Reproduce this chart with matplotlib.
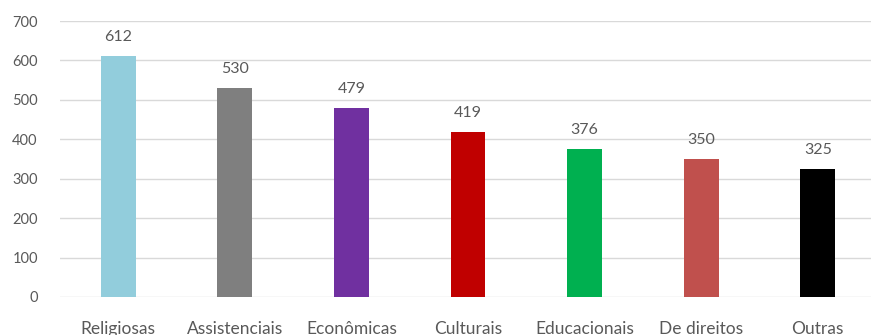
import matplotlib.pyplot as plt

categories = ["Religiosas", "Assistenciais", "Econômicas", "Culturais",
              "Educacionais", "De direitos", "Outras"]
counts = [612, 530, 479, 419, 376, 350, 325]
bar_colors = ["#92CDDC", "#7F7F7F", "#7030A0", "#C00000",
              "#00B050", "#C0504D", "#000000"]
y_ticks = [0, 100, 200, 300, 400, 500, 600, 700]

plt.rcParams['font.family'] = ['Lato', 'DejaVu Sans']
text_color = "#595959"

fig = plt.figure(figsize=(8.71, 3.35), dpi=100)
# axis box runs slightly past the right edge of the canvas
ax = fig.add_axes([60 / 871, 38 / 335, 816 / 871, 276 / 335])

x = range(len(categories))
bars = ax.bar(x, counts, width=0.3, color=bar_colors, zorder=3)

for rect, val in zip(bars, counts):
    ax.annotate(str(val), (rect.get_x() + rect.get_width() / 2, val),
                xytext=(0, 8.5), textcoords="offset points",
                ha="center", va="bottom", fontsize=11.5, color=text_color)

ax.set_xlim(-0.5, len(categories) - 0.5)
ax.set_ylim(0, 700)
ax.set_yticks(y_ticks)
ax.set_xticks(list(x))
ax.set_xticklabels(categories)
ax.tick_params(axis="both", length=0, labelsize=10.5, labelcolor=text_color)
ax.tick_params(axis="y", pad=16)
ax.tick_params(axis="x", pad=17, labelsize=12.5)

ax.grid(axis="y", color="#D9D9D9", linewidth=1, zorder=0)
for side in ["top", "right", "left", "bottom"]:
    ax.spines[side].set_visible(False)

fig.savefig("out.png", dpi=100)
